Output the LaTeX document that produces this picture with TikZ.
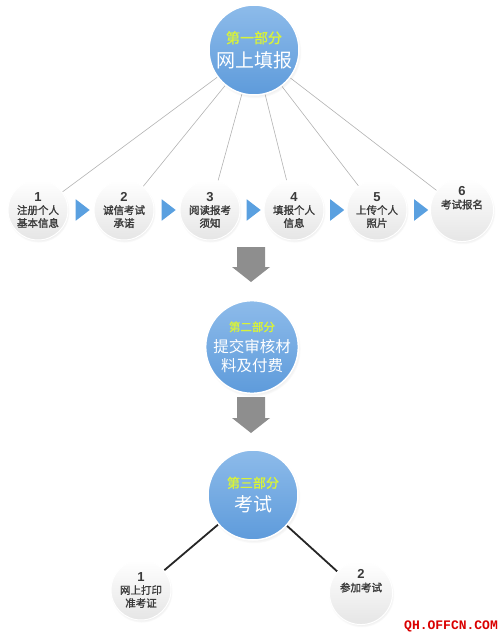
\documentclass[tikz,border=0pt]{standalone}
\usepackage{fontspec}
\setmainfont{Liberation Sans}
\newfontfamily\cjk[AutoFakeBold=1.6]{Noto Sans CJK SC}
\newfontfamily\markfont{Liberation Mono}
\usepackage{tikz}
\usetikzlibrary{calc}
\usetikzlibrary{shadows}
\usetikzlibrary{shapes.geometric}
\usetikzlibrary{backgrounds}
\definecolor{ballblue}{HTML}{5E9BDB}
\definecolor{balltop}{HTML}{8DBBEA}
\definecolor{parttext}{HTML}{D8F23A}
\definecolor{steptext}{HTML}{3A3A3A}
\definecolor{tipblue}{HTML}{5AA0E0}
\definecolor{blockgray}{HTML}{8E8E8E}
\tikzset{part/.style={circle, draw=white, line width=1.5pt, top color=balltop, bottom color=ballblue,
  minimum size=90pt, inner sep=0, text=white, align=center, font=\fontsize{19}{22}\selectfont\cjk,
  circular drop shadow={opacity=0.25, shadow xshift=1pt, shadow yshift=-2pt, shadow scale=1.03}}}
\tikzset{stepball/.style={circle, draw=white, line width=1pt, top color=white, bottom color=black!10,
  minimum size=60pt, inner sep=0, text=steptext, align=center,
  font=\fontsize{10.5}{13}\selectfont\cjk\bfseries,
  circular drop shadow={opacity=0.2, shadow xshift=0.5pt, shadow yshift=-1.5pt, shadow scale=1.04}}}
\tikzset{tip/.style={isosceles triangle, isosceles triangle apex angle=75, fill=tipblue,
  inner sep=0, minimum height=14pt, minimum width=11pt}}
\tikzset{block/.style={fill=blockgray}}
\tikzset{spoke/.style={draw=black!30, line width=0.6pt}}
\tikzset{stem/.style={draw=black!85, line width=1.8pt}}
\newcommand{\stepnum}[1]{{\fontsize{13}{13}\selectfont\rmfamily\bfseries #1}}
\newcommand{\parthead}[2]{{\fontsize{#1}{#1}\selectfont\color{parttext}\bfseries #2}}
% down arrow: top centre, shaft 28 wide, head 38 wide
\newcommand{\downblock}[2]{\fill[block] (#1) ++(-14,0) -- ++(28,0) -- ++(0,#2) -- ++(5,0) -- ++(-19,15) -- ++(-19,-15) -- ++(5,0) -- cycle;}

\begin{document}
\begin{tikzpicture}[x=1pt, y=-1pt]
  \useasboundingbox (0, 0) rectangle (500, 636);

  \node[part] at (254, 50) (top) {\parthead{14}{第一部分}\\[2pt]网上填报};

  \node[stepball] at (38, 210) (s1) {\stepnum{1}\\注册个人\\基本信息};
  \node[stepball] at (124, 210) (s2) {\stepnum{2}\\诚信考试\\承诺};
  \node[stepball] at (210, 210) (s3) {\stepnum{3}\\阅读报考\\须知};
  \node[stepball] at (294, 210) (s4) {\stepnum{4}\\填报个人\\信息};
  \node[stepball] at (377, 210) (s5) {\stepnum{5}\\上传个人\\照片};
  \node[stepball] at (462, 210) (s6) {\stepnum{6}\\考试报名\\[12pt]};

  \node[tip] at ($(s1)!0.5!(s2)$) (t1) {};
  \node[tip] at ($(s2)!0.5!(s3)$) (t2) {};
  \node[tip] at ($(s3)!0.5!(s4)$) (t3) {};
  \node[tip] at ($(s4)!0.5!(s5)$) (t4) {};
  \node[tip] at ($(s5)!0.5!(s6)$) (t5) {};

  \coordinate (g1) at (251, 247);
  \downblock{g1}{20}

  \node[part, minimum size=88pt, font=\fontsize{15.5}{19}\selectfont\cjk] at (252, 347) (mid) {\parthead{11.5}{第二部分}\\[2pt]提交审核材\\料及付费};

  \coordinate (g2) at (251, 397);
  \downblock{g2}{21}

  \node[part] at (253, 495) (exam) {\parthead{13}{第三部分}\\[2pt]考试};

  \node[stepball] at (141, 590) (b1) {\stepnum{1}\\网上打印\\准考证};
  \node[stepball] at (361, 593) (b2) {\stepnum{2}\\参加考试\\[12pt]};

  \node[text=red!85!black, font=\fontsize{13}{13}\selectfont\markfont\bfseries, inner sep=0] at (451, 626) (mark) {QH.OFFCN.COM};

  \begin{scope}[on background layer]
    \draw[spoke] (top) -- (s1);
    \draw[spoke] (top) -- (s2);
    \draw[spoke] (top) -- (s3);
    \draw[spoke] (top) -- (s4);
    \draw[spoke] (top) -- (s5);
    \draw[spoke] (top) -- (s6);
    \draw[stem] (exam) -- (b1);
    \draw[stem] (exam) -- (b2);
  \end{scope}
\end{tikzpicture}
\end{document}
